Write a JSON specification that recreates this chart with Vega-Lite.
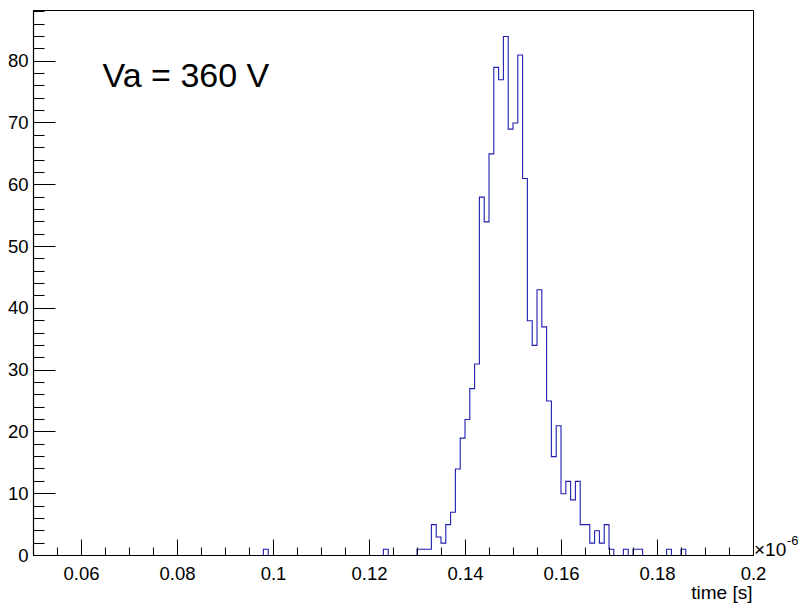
{
  "$schema": "https://vega.github.io/schema/vega-lite/v6.json",
  "width": 720,
  "height": 545,
  "autosize": {"type": "none"},
  "padding": {"left": 33, "top": 10, "right": 46, "bottom": 48},
  "background": "white",
  "config": {
    "view": {"stroke": "black", "strokeWidth": 1},
    "axis": {"grid": false, "domainColor": "black", "domainWidth": 1.2, "tickColor": "black", "labelFont": "Liberation Sans", "labelFontSize": 18.5, "labelColor": "black", "titleFont": "Liberation Sans", "titleFontWeight": "normal", "titleColor": "black", "zindex": 1}
  },
  "data": {"values": [
    {"time": 0.05, "entries": 0}, {"time": 0.051, "entries": 0}, {"time": 0.052, "entries": 0}, {"time": 0.053, "entries": 0}, {"time": 0.054, "entries": 0},
    {"time": 0.055, "entries": 0}, {"time": 0.056, "entries": 0}, {"time": 0.057, "entries": 0}, {"time": 0.058, "entries": 0}, {"time": 0.059, "entries": 0},
    {"time": 0.06, "entries": 0}, {"time": 0.061, "entries": 0}, {"time": 0.062, "entries": 0}, {"time": 0.063, "entries": 0}, {"time": 0.064, "entries": 0},
    {"time": 0.065, "entries": 0}, {"time": 0.066, "entries": 0}, {"time": 0.067, "entries": 0}, {"time": 0.068, "entries": 0}, {"time": 0.069, "entries": 0},
    {"time": 0.07, "entries": 0}, {"time": 0.071, "entries": 0}, {"time": 0.072, "entries": 0}, {"time": 0.073, "entries": 0}, {"time": 0.074, "entries": 0},
    {"time": 0.075, "entries": 0}, {"time": 0.076, "entries": 0}, {"time": 0.077, "entries": 0}, {"time": 0.078, "entries": 0}, {"time": 0.079, "entries": 0},
    {"time": 0.08, "entries": 0}, {"time": 0.081, "entries": 0}, {"time": 0.082, "entries": 0}, {"time": 0.083, "entries": 0}, {"time": 0.084, "entries": 0},
    {"time": 0.085, "entries": 0}, {"time": 0.086, "entries": 0}, {"time": 0.087, "entries": 0}, {"time": 0.088, "entries": 0}, {"time": 0.089, "entries": 0},
    {"time": 0.09, "entries": 0}, {"time": 0.091, "entries": 0}, {"time": 0.092, "entries": 0}, {"time": 0.093, "entries": 0}, {"time": 0.094, "entries": 0},
    {"time": 0.095, "entries": 0}, {"time": 0.096, "entries": 0}, {"time": 0.097, "entries": 0}, {"time": 0.098, "entries": 1}, {"time": 0.099, "entries": 0},
    {"time": 0.1, "entries": 0}, {"time": 0.101, "entries": 0}, {"time": 0.102, "entries": 0}, {"time": 0.103, "entries": 0}, {"time": 0.104, "entries": 0},
    {"time": 0.105, "entries": 0}, {"time": 0.106, "entries": 0}, {"time": 0.107, "entries": 0}, {"time": 0.108, "entries": 0}, {"time": 0.109, "entries": 0},
    {"time": 0.11, "entries": 0}, {"time": 0.111, "entries": 0}, {"time": 0.112, "entries": 0}, {"time": 0.113, "entries": 0}, {"time": 0.114, "entries": 0},
    {"time": 0.115, "entries": 0}, {"time": 0.116, "entries": 0}, {"time": 0.117, "entries": 0}, {"time": 0.118, "entries": 0}, {"time": 0.119, "entries": 0},
    {"time": 0.12, "entries": 0}, {"time": 0.121, "entries": 0}, {"time": 0.122, "entries": 0}, {"time": 0.123, "entries": 1}, {"time": 0.124, "entries": 0},
    {"time": 0.125, "entries": 0}, {"time": 0.126, "entries": 0}, {"time": 0.127, "entries": 0}, {"time": 0.128, "entries": 0}, {"time": 0.129, "entries": 0},
    {"time": 0.13, "entries": 1}, {"time": 0.131, "entries": 1}, {"time": 0.132, "entries": 1}, {"time": 0.133, "entries": 5}, {"time": 0.134, "entries": 3},
    {"time": 0.135, "entries": 2}, {"time": 0.136, "entries": 5}, {"time": 0.137, "entries": 7}, {"time": 0.138, "entries": 14}, {"time": 0.139, "entries": 19},
    {"time": 0.14, "entries": 22}, {"time": 0.141, "entries": 27}, {"time": 0.142, "entries": 31}, {"time": 0.143, "entries": 58}, {"time": 0.144, "entries": 54},
    {"time": 0.145, "entries": 65}, {"time": 0.146, "entries": 79}, {"time": 0.147, "entries": 77}, {"time": 0.148, "entries": 84}, {"time": 0.149, "entries": 69},
    {"time": 0.15, "entries": 70}, {"time": 0.151, "entries": 81}, {"time": 0.152, "entries": 61}, {"time": 0.153, "entries": 38}, {"time": 0.154, "entries": 34},
    {"time": 0.155, "entries": 43}, {"time": 0.156, "entries": 37}, {"time": 0.157, "entries": 25}, {"time": 0.158, "entries": 16}, {"time": 0.159, "entries": 21},
    {"time": 0.16, "entries": 10}, {"time": 0.161, "entries": 12}, {"time": 0.162, "entries": 9}, {"time": 0.163, "entries": 12}, {"time": 0.164, "entries": 5},
    {"time": 0.165, "entries": 5}, {"time": 0.166, "entries": 2}, {"time": 0.167, "entries": 4}, {"time": 0.168, "entries": 2}, {"time": 0.169, "entries": 5},
    {"time": 0.17, "entries": 1}, {"time": 0.171, "entries": 0}, {"time": 0.172, "entries": 0}, {"time": 0.173, "entries": 1}, {"time": 0.174, "entries": 0},
    {"time": 0.175, "entries": 1}, {"time": 0.176, "entries": 1}, {"time": 0.177, "entries": 0}, {"time": 0.178, "entries": 0}, {"time": 0.179, "entries": 0},
    {"time": 0.18, "entries": 0}, {"time": 0.181, "entries": 0}, {"time": 0.182, "entries": 1}, {"time": 0.183, "entries": 0}, {"time": 0.184, "entries": 0},
    {"time": 0.185, "entries": 1}, {"time": 0.186, "entries": 0}, {"time": 0.187, "entries": 0}, {"time": 0.188, "entries": 0}, {"time": 0.189, "entries": 0},
    {"time": 0.19, "entries": 0}, {"time": 0.191, "entries": 0}, {"time": 0.192, "entries": 0}, {"time": 0.193, "entries": 0}, {"time": 0.194, "entries": 0},
    {"time": 0.195, "entries": 0}, {"time": 0.196, "entries": 0}, {"time": 0.197, "entries": 0}, {"time": 0.198, "entries": 0}, {"time": 0.199, "entries": 0}
  ]},
  "layer": [
    {
      "mark": {"type": "line", "interpolate": "step-after", "color": "#1f1fb0", "strokeWidth": 1.1, "yOffset": 0.5},
      "encoding": {
        "x": {"field": "time", "type": "quantitative", "scale": {"domain": [0.05, 0.2], "nice": false, "zero": false},
          "axis": {"orient": "bottom", "zindex": 2, "values": [0.06, 0.08, 0.1, 0.12, 0.14, 0.16, 0.18, 0.2], "format": ".2~f", "tickSize": -16, "labelPadding": 25, "labelFlush": false, "labelOverlap": false,
            "title": "time [s]", "titleFontSize": 19, "titleAnchor": "end", "titleAlign": "right", "titleBaseline": "alphabetic", "titleX": 719, "titleY": 43}},
        "y": {"field": "entries", "type": "quantitative", "scale": {"domain": [0, 88.2], "nice": false, "zero": true},
          "axis": {"orient": "left", "zindex": 2, "values": [0, 10, 20, 30, 40, 50, 60, 70, 80], "format": "d", "tickSize": -22, "labelPadding": 27, "labelFlush": false, "labelOverlap": false, "title": null}}
      }
    },
    {
      "mark": {"type": "point", "opacity": 0},
      "encoding": {
        "x": {"field": "time", "type": "quantitative",
          "axis": {"orient": "bottom", "zindex": 1, "values": [0.05, 0.055, 0.06, 0.065, 0.07, 0.075, 0.08, 0.085, 0.09, 0.095, 0.1, 0.105, 0.11, 0.115, 0.12, 0.125, 0.13, 0.135, 0.14, 0.145, 0.15, 0.155, 0.16, 0.165, 0.17, 0.175, 0.18, 0.185, 0.19, 0.195, 0.2], "tickSize": -8, "labels": false, "domain": false, "title": null}},
        "y": {"field": "entries", "type": "quantitative",
          "axis": {"orient": "left", "zindex": 1, "values": [0, 2, 4, 6, 8, 10, 12, 14, 16, 18, 20, 22, 24, 26, 28, 30, 32, 34, 36, 38, 40, 42, 44, 46, 48, 50, 52, 54, 56, 58, 60, 62, 64, 66, 68, 70, 72, 74, 76, 78, 80, 82, 84, 86, 88], "tickSize": -11, "labels": false, "domain": false, "title": null}}
      }
    },
    {
      "data": {"values": [{"label": "Va = 360 V"}]},
      "mark": {"type": "text", "font": "Liberation Sans", "fontSize": 34, "align": "left", "baseline": "alphabetic", "color": "black"},
      "encoding": {
        "text": {"field": "label"},
        "x": {"datum": 0.0645, "type": "quantitative", "axis": null},
        "y": {"datum": 75.8, "type": "quantitative", "axis": null}
      }
    },
    {
      "data": {"values": [{"label": "×10"}]},
      "mark": {"type": "text", "font": "Liberation Sans", "fontSize": 19, "align": "left", "baseline": "alphabetic", "dx": 1, "dy": 1, "color": "black"},
      "encoding": {
        "text": {"field": "label"},
        "x": {"datum": 0.2, "type": "quantitative", "axis": null},
        "y": {"datum": 0, "type": "quantitative", "axis": null}
      }
    },
    {
      "data": {"values": [{"label": "-6"}]},
      "mark": {"type": "text", "font": "Liberation Sans", "fontSize": 13, "align": "left", "baseline": "alphabetic", "dx": 34, "dy": -10, "color": "black"},
      "encoding": {
        "text": {"field": "label"},
        "x": {"datum": 0.2, "type": "quantitative", "axis": null},
        "y": {"datum": 0, "type": "quantitative", "axis": null}
      }
    }
  ],
  "resolve": {"axis": {"x": "independent", "y": "independent"}}
}
